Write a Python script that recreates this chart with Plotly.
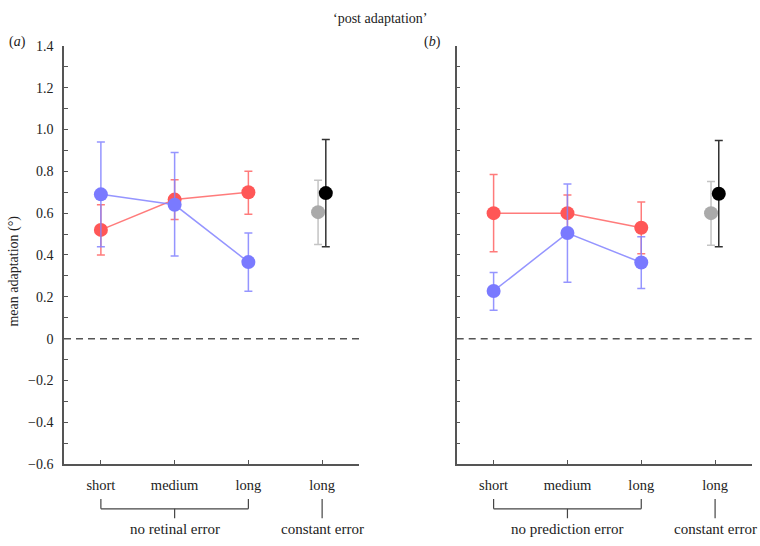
import plotly.graph_objects as go

# ---- data ----
conditions = ["short", "medium", "long", "long"]
xpos = [1, 2, 3]

# panel (a): no retinal error
a_red_mean = [0.52, 0.665, 0.70]
a_red_hi = [0.64, 0.76, 0.80]
a_red_lo = [0.40, 0.57, 0.595]
a_blue_mean = [0.69, 0.64, 0.366]
a_blue_hi = [0.94, 0.89, 0.505]
a_blue_lo = [0.44, 0.395, 0.227]
a_gray = [0.605, 0.757, 0.45]   # mean, hi, lo
a_black = [0.696, 0.952, 0.44]

# panel (b): no prediction error
b_red_mean = [0.60, 0.60, 0.53]
b_red_hi = [0.785, 0.687, 0.654]
b_red_lo = [0.415, 0.51, 0.406]
b_blue_mean = [0.228, 0.505, 0.364]
b_blue_hi = [0.316, 0.74, 0.487]
b_blue_lo = [0.136, 0.27, 0.24]
b_gray = [0.60, 0.752, 0.447]
b_black = [0.693, 0.947, 0.439]

ytick_vals = [1.4, 1.2, 1.0, 0.8, 0.6, 0.4, 0.2, 0, -0.2, -0.4, -0.6]
ytick_text = ["1.4", "1.2", "1.0", "0.8", "0.6", "0.4", "0.2", "0", "\u22120.2", "\u22120.4", "\u22120.6"]

FONT = "Liberation Serif"
FS = 14
RED_M = "#FF5757"
RED_L = "rgba(255,100,100,0.85)"
BLUE_M = "#7A7AFF"
BLUE_L = "rgba(130,130,255,0.85)"

fig = go.Figure()


def add_series(xs, mean, hi, lo, mcolor, lcolor, xa, ya, mode="lines+markers"):
    fig.add_trace(go.Scatter(
        x=xs, y=mean, mode=mode, xaxis=xa, yaxis=ya,
        line=dict(color=lcolor, width=1.5),
        marker=dict(color=mcolor, size=14),
        error_y=dict(type="data", symmetric=False,
                     array=[h - m for h, m in zip(hi, mean)],
                     arrayminus=[m - l for m, l in zip(mean, lo)],
                     color=lcolor, thickness=1.5, width=4),
        showlegend=False, hoverinfo="skip"))


for (xa, ya, rm, rh, rl, bm, bh, bl, g, k) in [
    ("x", "y", a_red_mean, a_red_hi, a_red_lo, a_blue_mean, a_blue_hi, a_blue_lo, a_gray, a_black),
    ("x2", "y2", b_red_mean, b_red_hi, b_red_lo, b_blue_mean, b_blue_hi, b_blue_lo, b_gray, b_black),
]:
    add_series(xpos, rm, rh, rl, RED_M, RED_L, xa, ya)
    add_series(xpos, bm, bh, bl, BLUE_M, BLUE_L, xa, ya)
    add_series([3.945], [g[0]], [g[1]], [g[2]], "#AAAAAA", "#C4C4C4", xa, ya, mode="markers")
    add_series([4.05], [k[0]], [k[1]], [k[2]], "#000000", "#333333", xa, ya, mode="markers")

ax_common = dict(
    range=[0.5, 4.5], tickvals=[1, 2, 3, 4], ticktext=conditions,
    ticks="inside", ticklen=4, tickcolor="#555555", tickwidth=1.2,
    showline=True, linecolor="#555555", linewidth=1.5,
    showgrid=False, zeroline=False, fixedrange=True,
    tickfont=dict(family=FONT, size=14.5, color="#222222"),
    ticklabelstandoff=7,
)
ay_common = dict(
    range=[-0.6, 1.4], tickvals=ytick_vals,
    ticks="inside", ticklen=4, tickcolor="#555555", tickwidth=1.2,
    minor=dict(ticks="inside", dtick=0.1, tick0=0, ticklen=4, tickcolor="#555555", tickwidth=1.2),
    showline=True, linecolor="#555555", linewidth=1.5,
    showgrid=False, zeroline=False, fixedrange=True,
    tickfont=dict(family=FONT, size=FS, color="#222222"),
)

fig.update_layout(
    width=760, height=546,
    margin=dict(l=0, r=0, t=0, b=0),
    paper_bgcolor="white", plot_bgcolor="white",
    xaxis=dict(domain=[64 / 760, 359 / 760], anchor="y", **ax_common),
    xaxis2=dict(domain=[456.7 / 760, 752 / 760], anchor="y2", **ax_common),
    yaxis=dict(domain=[1 - 470 / 546, 1 - 40 / 546], anchor="x",
               ticktext=ytick_text, ticklabelstandoff=6, **ay_common),
    yaxis2=dict(domain=[1 - 470 / 546, 1 - 40 / 546], anchor="x2",
                showticklabels=False, **ay_common),
)

shapes = []
for xr in ["x", "x2"]:
    yr = "y" if xr == "x" else "y2"
    shapes.append(dict(type="line", xref=xr, yref=yr, x0=0.5, x1=4.5, y0=0, y1=0,
                       line=dict(color="#555555", width=1.5, dash="7px,5px")))
    # bracket
    shapes.append(dict(type="line", xref=xr, yref="paper", x0=1, x1=3,
                       y0=1 - 516 / 546, y1=1 - 516 / 546, line=dict(color="#444444", width=1.2)))
    for xv in [1, 3]:
        shapes.append(dict(type="line", xref=xr, yref="paper", x0=xv, x1=xv,
                           y0=1 - 506 / 546, y1=1 - 516 / 546, line=dict(color="#444444", width=1.2)))
    shapes.append(dict(type="line", xref=xr, yref="paper", x0=2, x1=2,
                       y0=1 - 516 / 546, y1=1 - 525.7 / 546, line=dict(color="#444444", width=1.2)))
    shapes.append(dict(type="line", xref=xr, yref="paper", x0=4, x1=4,
                       y0=1 - 506 / 546, y1=1 - 525.7 / 546, line=dict(color="#444444", width=1.2)))
fig.update_layout(shapes=shapes)

tfont = dict(family=FONT, size=FS, color="#222222")
bfont = dict(family=FONT, size=15, color="#222222")


def pann(text, x, y, xref="paper", angle=0, font=tfont):
    return dict(text=text, x=x, y=y, xref=xref, yref="paper", xanchor="center",
                yanchor="middle", showarrow=False, textangle=angle, font=font)


ann = [
    pann("\u2018post adaptation\u2019", 0.5, 1 - 12 / 546),
    pann("(<i>a</i>)", 17 / 760, 1 - 36 / 546),
    pann("(<i>b</i>)", 432 / 760, 1 - 36 / 546),
    pann("mean adaptation (\u00b0)", 14 / 760, 1 - 272 / 546, angle=-90),
    pann("no retinal error", 2, 1 - 537 / 546, xref="x", font=bfont),
    pann("constant error", 4, 1 - 537 / 546, xref="x", font=bfont),
    pann("no prediction error", 2, 1 - 537 / 546, xref="x2", font=bfont),
    pann("constant error", 4, 1 - 537 / 546, xref="x2", font=bfont),
]
fig.update_layout(annotations=ann)

post = (
    "document.documentElement.style.margin='0px';"
    "document.documentElement.style.padding='0px';"
    "document.documentElement.style.overflow='hidden';"
    "document.body.style.margin='0px';"
    "document.body.style.padding='0px';"
    "document.body.style.overflow='hidden';"
)

fig.write_html("out.html", post_script=post, config={"displayModeBar": False})
